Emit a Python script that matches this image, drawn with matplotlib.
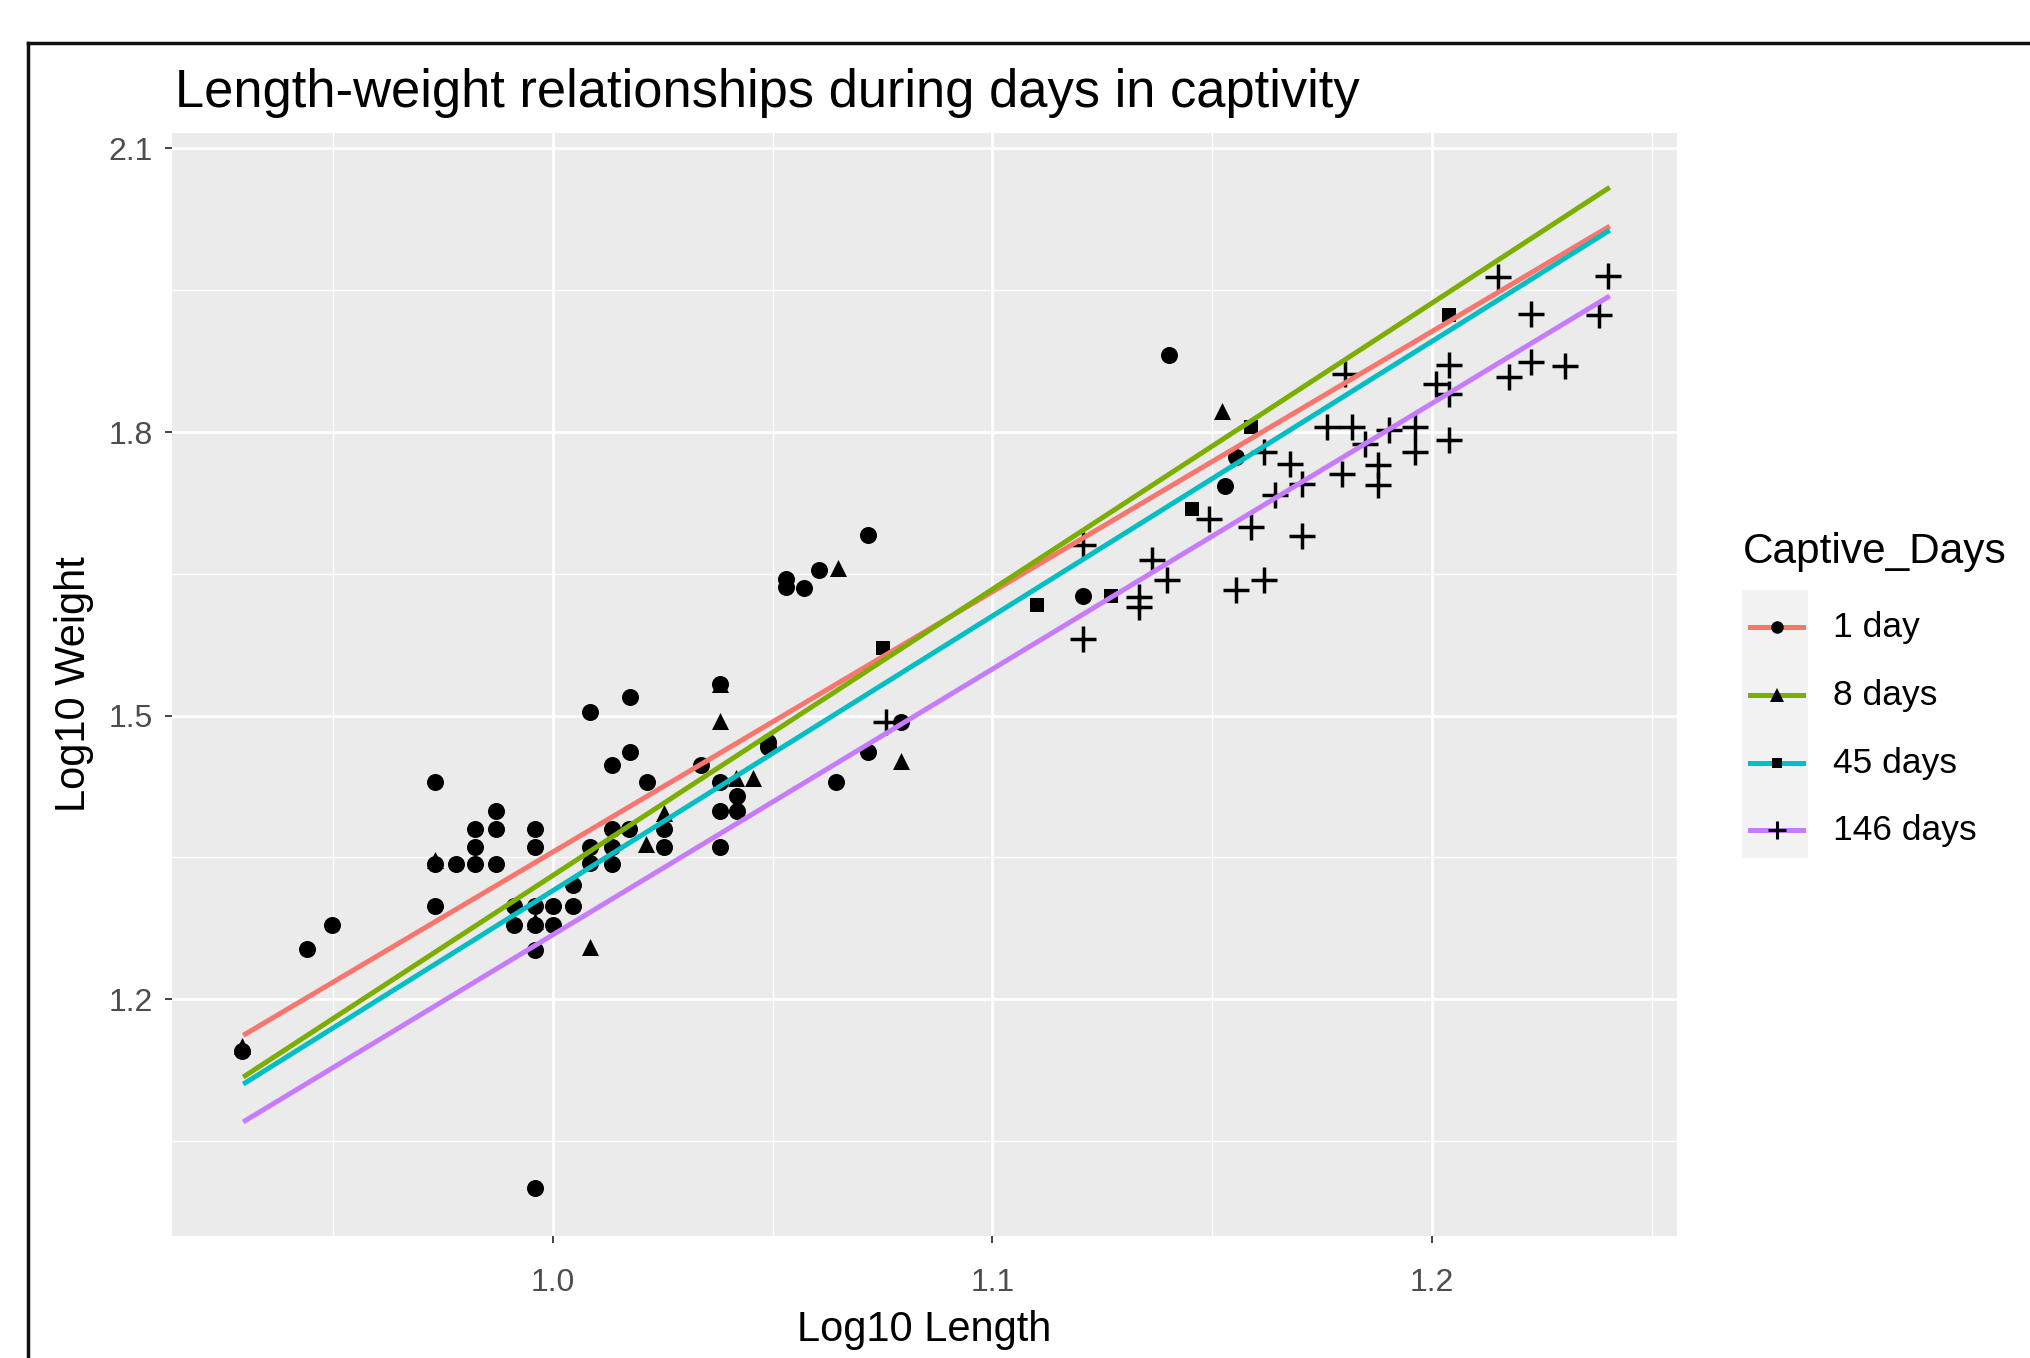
import matplotlib
matplotlib.use("Agg")
import matplotlib.pyplot as plt
from matplotlib.lines import Line2D
from matplotlib.patches import Rectangle

plt.rcParams['font.family'] = ['Liberation Sans', 'DejaVu Sans']

# ---- data ----
groups = ["1 day", "8 days", "45 days", "146 days"]
colors = ["#F8766D", "#7CAE00", "#00BFC4", "#C77CFF"]

day1_x = [0.9294, 0.9442, 0.9498, 0.9732, 0.9732, 0.9779, 0.9824, 0.9872, 0.9824, 0.9824,
          0.9872, 0.9872, 0.9732, 0.9960, 0.9960, 0.9911, 0.9960, 1.0000, 1.0047, 1.0047,
          0.9911, 0.9960, 1.0000, 0.9960, 0.9959, 1.0085, 1.0175, 1.0175, 1.0134, 1.0215,
          1.0085, 1.0085, 1.0134, 1.0134, 1.0134, 1.0173, 1.0253, 1.0253, 1.0337, 1.0381,
          1.0381, 1.0381, 1.0381, 1.0418, 1.0418, 1.0489, 1.0489, 1.0530, 1.0530, 1.0572,
          1.0605, 1.0718, 1.0718, 1.0644, 1.0792, 1.1205, 1.1402, 1.1555, 1.1528]
day1_y = [1.1453, 1.2528, 1.2779, 1.4295, 1.3427, 1.3427, 1.3427, 1.3427, 1.3607, 1.3798,
          1.3798, 1.3992, 1.2990, 1.3798, 1.3607, 1.2990, 1.2990, 1.2990, 1.2990, 1.3202,
          1.2779, 1.2779, 1.2779, 1.2521, 1.0000, 1.5042, 1.5194, 1.4609, 1.4478, 1.4295,
          1.3607, 1.3438, 1.3798, 1.3607, 1.3427, 1.3798, 1.3798, 1.3607, 1.4478, 1.4295,
          1.3985, 1.3607, 1.5331, 1.4153, 1.3995, 1.4718, 1.4665, 1.6447, 1.6360, 1.6348,
          1.6542, 1.6913, 1.4612, 1.4302, 1.4930, 1.6260, 1.8819, 1.7735, 1.7424]

day8_x = [0.9294, 0.9732, 0.9960, 1.0085, 1.0253, 1.0211, 1.0381, 1.0381, 1.0417, 1.0455,
          1.0648, 1.0792, 1.1523]
day8_y = [1.1500, 1.3470, 1.2830, 1.2556, 1.3974, 1.3642, 1.5331, 1.4944, 1.4340, 1.4337,
          1.6564, 1.4524, 1.8219]

day45_x = [1.0750, 1.1102, 1.1269, 1.1455, 1.1587, 1.2039]
day45_y = [1.5713, 1.6165, 1.6260, 1.7188, 1.8053, 1.9235]

day146_x = [1.0758, 1.1205, 1.1205, 1.1333, 1.1333, 1.1398, 1.1364, 1.1492, 1.1617, 1.1587,
            1.1643, 1.1677, 1.1704, 1.1704, 1.1760, 1.1817, 1.1794, 1.1847, 1.1903, 1.1877,
            1.1877, 1.1960, 1.1960, 1.2039, 1.2039, 1.2009, 1.2039, 1.1802, 1.2149, 1.2226,
            1.2175, 1.2226, 1.2303, 1.2401, 1.2379, 1.1555, 1.1617]
day146_y = [1.4930, 1.5812, 1.6807, 1.6253, 1.6147, 1.6436, 1.6641, 1.7082, 1.7788, 1.6994,
            1.7329, 1.7665, 1.7453, 1.6895, 1.8053, 1.8053, 1.7559, 1.7876, 1.8018, 1.7647,
            1.7435, 1.8053, 1.7788, 1.7919, 1.8706, 1.8512, 1.8406, 1.8618, 1.9641, 1.9246,
            1.8582, 1.8741, 1.8695, 1.9648, 1.9235, 1.6330, 1.6429]

# fitted lines (start / end)
fit_x = [0.9296, 1.2404]
fit_y = {
    "1 day": [1.1616, 2.0178],
    "8 days": [1.1175, 2.0589],
    "45 days": [1.1100, 2.0135],
    "146 days": [1.0700, 1.9440],
}

pts = [(day1_x, day1_y, 'o', 150), (day8_x, day8_y, '^', 150),
       (day45_x, day45_y, 's', 105), (day146_x, day146_y, '+', 340)]
legend_ms = [9, 9.5, 7.5, 13]

W, H = 2030, 1358
fig = plt.figure(figsize=(W / 100, H / 100), dpi=100)
ax = fig.add_axes([172 / W, 1 - 1236 / H, (1677 - 172) / W, (1236 - 133) / H])

ax.set_facecolor('#EBEBEB')
for s in ax.spines.values():
    s.set_visible(False)

ax.set_xlim(0.9134, 1.2557)
ax.set_ylim(0.9493, 2.1164)
ax.set_xticks([1.0, 1.1, 1.2])
ax.set_xticks([0.95, 1.05, 1.15, 1.25], minor=True)
ax.set_yticks([1.2, 1.5, 1.8, 2.1])
ax.set_yticks([1.05, 1.35, 1.65, 1.95], minor=True)
ax.grid(which='major', color='white', linewidth=2.0)
ax.grid(which='minor', color='white', linewidth=1.0)
ax.set_axisbelow(True)
ax.tick_params(which='major', length=5, width=1.3, color='#333333',
               labelsize=23, labelcolor='#4D4D4D', pad=9)
ax.tick_params(axis='x', which='major', pad=18)
ax.tick_params(which='minor', length=0)

for (px, py, m, sz) in pts:
    if m == '+':
        ax.scatter(px, py, marker=m, s=sz, color='black', linewidths=2.5, zorder=3)
    else:
        ax.scatter(px, py, marker=m, s=sz, color='black', linewidths=0, zorder=3)

for g, c in zip(groups, colors):
    ax.plot(fit_x, fit_y[g], color=c, linewidth=3.6, zorder=4, solid_capstyle='butt')

ax.set_xlabel('Log10 Length', fontsize=30, labelpad=9)
ax.set_ylabel('Log10 Weight', fontsize=30, labelpad=10)
fig.text(175 / W, 1 - 93 / H, 'Length-weight relationships during days in captivity',
         fontsize=37.8, ha='left', va='center')

# legend drawn by hand
fig.text(1743 / W, 1 - 552 / H, 'Captive_Days', fontsize=30.5, ha='left', va='center')
fig.add_artist(Rectangle((1742 / W, 1 - 858 / H), 66 / W, 268 / H,
                         transform=fig.transFigure, facecolor='#F2F2F2', edgecolor='none'))
key_y = [627, 695, 763, 830]
for g, c, ky, (_, _, m, _), ms in zip(groups, colors, key_y, pts, legend_ms):
    yy = 1 - ky / H
    fig.add_artist(Line2D([1750 / W, 1803 / W], [yy, yy], color=c, linewidth=3.6,
                          transform=fig.transFigure))
    fig.add_artist(Line2D([1776.5 / W], [yy], marker=m, markersize=ms, color='black',
                          markeredgewidth=2.2 if m == '+' else 0, linestyle='none',
                          transform=fig.transFigure))
    fig.text(1833 / W, yy, g, fontsize=25.5, ha='left', va='center')

# screenshot frame
fig.add_artist(Line2D([28 / W, 1.0], [1 - 43 / H, 1 - 43 / H], color='#111111',
                      linewidth=2.5, transform=fig.transFigure))
fig.add_artist(Line2D([28 / W, 28 / W], [0.0, 1 - 43 / H], color='#111111',
                      linewidth=2.5, transform=fig.transFigure))

fig.savefig('out.png', dpi=100)
